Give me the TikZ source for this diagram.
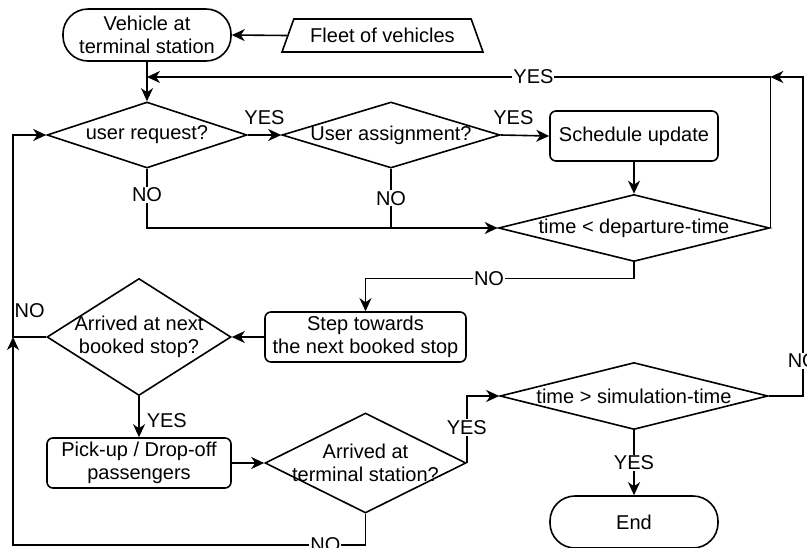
\documentclass[tikz,border=0pt]{standalone}
\usepackage{fontspec}
\setmainfont{Liberation Sans}
\usetikzlibrary{positioning}
\usetikzlibrary{calc}
\usetikzlibrary{arrows.meta}
\usetikzlibrary{shapes.geometric}

\begin{document}
\begin{tikzpicture}[x=1pt, y=-1pt,
    font=\fontsize{20}{23}\selectfont,
    line width=1.6pt,
    terminal/.style={draw, rounded corners=25pt, minimum width=168pt, minimum height=52pt, align=center},
    process/.style={draw, rounded corners=6pt, minimum height=50pt, align=center},
    decision/.style={draw, diamond, aspect=3, inner xsep=-30pt, inner ysep=-5pt, align=center},
    data/.style={draw, trapezium, trapezium angle=61, trapezium stretches body,
                 minimum width=201pt, minimum height=33pt},
    flow/.style={-{Stealth[length=13pt,width=12pt,inset=4pt]}},
    lbl/.style={fill=white, inner sep=1pt}]
    \useasboundingbox (0,0) rectangle (807,547);

    % Start and fleet input
    \node[terminal] (veh) at (147,35) {Vehicle at\\terminal station};
    \node[data] (fleet) at (382.5,35.5) {Fleet of vehicles};

    % Waiting at the terminal
    \node[decision, minimum width=200pt, minimum height=66pt] (req) at (147,135) {user request?};
    \node[decision, minimum width=218pt, minimum height=66pt] (assign) at (391,135) {User assignment?};
    \node[process, minimum width=168pt] (sched) at (634,136) {Schedule update};
    \node[decision, minimum width=271pt, minimum height=67pt] (dep) at (634,228) {time < departure-time};

    % Driving the route
    \node[process, minimum width=201pt] (stepnext) at (365.5,337) {Step towards\\the next booked stop};
    \node[decision, minimum width=184pt, minimum height=117pt] (arrnext) at (139,337) {Arrived at next\\booked stop?};
    \node[process, minimum width=184pt] (pick) at (139,463) {Pick-up / Drop-off\\passengers};
    \node[decision, minimum width=201pt, minimum height=100pt] (arrterm) at (365.5,463) {Arrived at\\terminal station?};
    \node[decision, minimum width=268pt, minimum height=67pt] (sim) at (634,396) {time > simulation-time};
    \node[terminal] (finish) at (634,522) {End};

    \coordinate (joinT) at (147,77);
    \coordinate (railL) at (13,545);

    % Connectors
    \draw[flow] (fleet.west) -- (veh.east);
    \draw[flow] (veh.south) -- (req.north);
    \draw[flow] (dep.east) |- node[lbl, pos=0.69] {YES} (joinT);
    \draw[flow] (sim.east) -- ++(34,0) |- node[lbl, pos=0.055] {NO} (dep.east |- joinT);

    \draw[flow] (req.east) -- node[above=9pt, inner sep=1pt] {YES} (assign.west);
    \draw[flow] (assign.east) -- node[above=9pt, inner sep=1pt, pos=0.26] {YES} (sched.west);
    \draw[flow] (sched.south) -- (dep.north);
    \draw[flow] (req.south) |- node[lbl, pos=0.22] {NO} (dep.west);
    \draw (assign.south) -- node[lbl] {NO} (assign.south |- dep.west);

    \draw[flow] (dep.south) -- ++(0,16) -| node[lbl, pos=0.27] {NO} (stepnext.north);
    \draw[flow] (stepnext.west) -- (arrnext.east);
    \draw[flow] (arrnext.west) -- node[above=18pt, inner sep=1pt] {NO} (arrnext.west -| railL) |- (req.west);
    \draw[flow] (arrnext.south) -- node[right=6pt, pos=0.6, inner sep=1pt] {YES} (pick.north);
    \draw[flow] (pick.east) -- (arrterm.west);
    \draw[flow] (arrterm.east) |- node[lbl, pos=0.265] {YES} (sim.west);
    \draw[flow] (sim.south) -- node[lbl] {YES} (finish.north);
    \draw[flow] (arrterm.south) |- node[lbl, pos=0.557] {NO} (railL) -- (railL |- arrnext.west);
\end{tikzpicture}
\end{document}
